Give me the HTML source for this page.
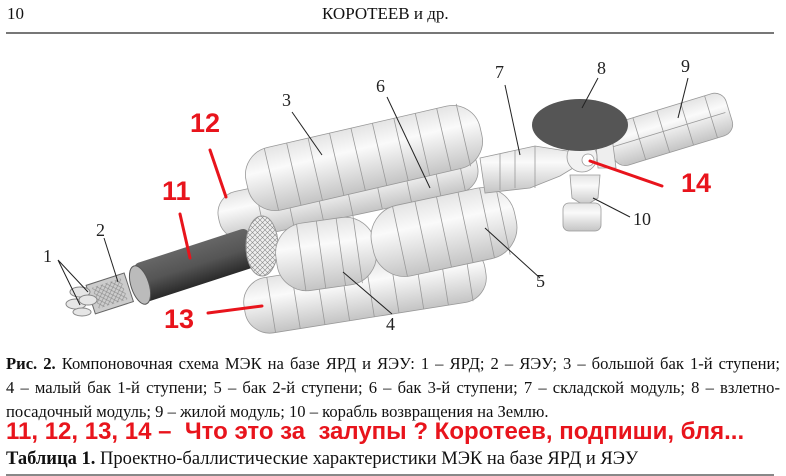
<!DOCTYPE html>
<html><head><meta charset="utf-8"><style>
body{margin:0;background:#fff;width:786px;height:476px;overflow:hidden;position:relative;font-family:"Liberation Serif",serif;color:#111}
.t{position:absolute;white-space:nowrap}
.cap{position:absolute;left:6px;width:774px;font-size:16.6px;line-height:24px;text-align:justify;text-align-last:justify;white-space:nowrap}
.red{position:absolute;color:#e8141c;font-family:"Liberation Sans",sans-serif;font-weight:bold;white-space:nowrap}
</style></head><body>
<div class="t" style="left:7px;top:4px;font-size:17px">10</div>
<div class="t" style="left:322px;top:4px;font-size:17px">КОРОТЕЕВ и др.</div>
<div style="position:absolute;left:6px;top:32px;width:768px;height:2px;background:#777"></div>

<svg width="786" height="340" style="position:absolute;left:0;top:0">
<defs>
<linearGradient id="g" x1="0" y1="0" x2="0" y2="1"><stop offset="0" stop-color="#e4e4e4"/><stop offset=".35" stop-color="#fafafa"/><stop offset="1" stop-color="#c4c4c4"/></linearGradient>
<linearGradient id="d" x1="0" y1="0" x2="0" y2="1"><stop offset="0" stop-color="#666"/><stop offset=".5" stop-color="#555"/><stop offset="1" stop-color="#2a2a2a"/></linearGradient>
<pattern id="m" width="5" height="5" patternUnits="userSpaceOnUse"><path d="M0 0L5 5M5 0L0 5" stroke="#888" stroke-width=".6"/></pattern>
</defs>
<g stroke="#999" stroke-width=".8">
<g transform="translate(348,192) rotate(-12)"><rect x="-132" y="-24" width="264" height="48" rx="22" fill="url(#g)"/>
<path d="M-90 -24v48M-60 -24v48M-30 -24v48M0 -24v48M30 -24v48M60 -24v48M90 -24v48M115 -24v48"/></g>
<g transform="translate(364,158) rotate(-13)"><rect x="-120" y="-32" width="240" height="64" rx="28" fill="url(#g)"/>
<path d="M-95 -32v64M-72 -32v64M-50 -32v64M-28 -32v64M-6 -32v64M16 -32v64M38 -32v64M60 -32v64M82 -32v64M102 -32v64"/></g>
<g transform="translate(365,290) rotate(-9)"><rect x="-122" y="-28" width="244" height="56" rx="25" fill="url(#g)"/>
<path d="M-95 -28v56M-70 -28v56M-45 -28v56M-20 -28v56M5 -28v56M30 -28v56M55 -28v56M80 -28v56M105 -28v56"/></g>
</g>
<g transform="translate(196,265) rotate(-18)"><rect x="-60" y="-20" width="120" height="40" rx="6" fill="url(#d)"/></g>
<ellipse cx="140" cy="285" rx="9" ry="20" transform="rotate(-18 140 285)" fill="#bbb" stroke="#555"/>
<ellipse cx="262" cy="246" rx="16" ry="30" fill="#eee" stroke="#999"/>
<ellipse cx="262" cy="246" rx="16" ry="30" fill="url(#m)"/>
<g transform="rotate(-18 105 295)"><rect x="90" y="280" width="40" height="30" fill="#ccc" stroke="#666"/><rect x="95" y="284" width="30" height="22" fill="url(#m)"/></g>
<g fill="#e6e6e6" stroke="#888"><ellipse cx="80" cy="292" rx="10" ry="5"/><ellipse cx="76" cy="304" rx="10" ry="5"/><ellipse cx="88" cy="300" rx="9" ry="5"/><ellipse cx="82" cy="312" rx="9" ry="4"/></g>
<g stroke="#999" stroke-width=".8">
<g transform="translate(326,254) rotate(-8)"><rect x="-50" y="-34" width="100" height="68" rx="30" fill="url(#g)"/>
<path d="M-25 -34v68M-5 -34v68M15 -34v68M32 -34v68"/></g>
<g transform="translate(444,232) rotate(-12)"><rect x="-73" y="-36" width="146" height="72" rx="32" fill="url(#g)"/>
<path d="M-45 -36v72M-22 -36v72M0 -36v72M22 -36v72M44 -36v72M60 -36v72"/></g>
<path d="M480 158 L535 146 L560 150 L575 152 L578 165 L560 176 L530 188 L485 193 Z" fill="url(#g)"/>
<path d="M500 154v36M515 150v38M535 146v42"/>
<g transform="translate(668,130) rotate(-17)"><rect x="-60" y="-22" width="124" height="44" rx="12" fill="url(#g)"/>
<path d="M-30 -22v44M-5 -22v44M20 -22v44M45 -22v44M-60 0h120"/></g>
<path d="M596 145 L612 137 L616 168 L598 168 Z" fill="#eee"/>
<path d="M570 175 L600 175 L598 198 L585 206 L572 198 Z" fill="url(#g)"/>
<rect x="563" y="203" width="38" height="28" rx="6" fill="url(#g)"/>
<circle cx="582" cy="157" r="15" fill="#f2f2f2"/>
<circle cx="588" cy="160" r="6" fill="#fff"/>
</g>
<ellipse cx="580" cy="125" rx="48" ry="26" fill="#555"/>
<g stroke="#222" stroke-width="1" fill="none">
<path d="M58 260 L88 292M58 260 L80 305"/><path d="M104 238 L118 282"/><path d="M292 112 L322 155"/>
<path d="M387 97 L430 188"/><path d="M505 85 L520 155"/><path d="M598 78 L582 108"/>
<path d="M688 78 L678 118"/><path d="M630 217 L593 198"/><path d="M540 278 L485 228"/><path d="M392 314 L343 272"/>
</g>
<g font-family="Liberation Serif,serif" font-size="18" fill="#222">
<text x="43" y="262">1</text><text x="96" y="236">2</text><text x="282" y="106">3</text><text x="386" y="330">4</text>
<text x="536" y="287">5</text><text x="376" y="92">6</text><text x="495" y="78">7</text><text x="597" y="74">8</text>
<text x="681" y="72">9</text><text x="633" y="225">10</text></g>
<g stroke="#e8141c" stroke-width="3" fill="none" stroke-linecap="round">
<path d="M210 150 L226 197"/><path d="M180 214 L190 258"/><path d="M208 313 L262 306"/><path d="M590 161 L662 186"/></g>
</svg>
<div class="red" style="left:190px;top:108px;font-size:27px">12</div>
<div class="red" style="left:162px;top:176px;font-size:27px">11</div>
<div class="red" style="left:164px;top:304px;font-size:27px">13</div>
<div class="red" style="left:681px;top:168px;font-size:27px">14</div>

<div class="cap" style="top:352px"><b>Рис. 2.</b> Компоновочная схема МЭК на базе ЯРД и ЯЭУ: 1 – ЯРД; 2 – ЯЭУ; 3 – большой бак 1-й ступени;</div>
<div class="cap" style="top:376px">4 – малый бак 1-й ступени; 5 – бак 2-й ступени; 6 – бак 3-й ступени; 7 – складской модуль; 8 – взлетно-</div>
<div class="t" style="left:6px;top:400px;font-size:16.6px;line-height:24px">посадочный модуль; 9 – жилой модуль; 10 – корабль возвращения на Землю.</div>
<div class="red" style="left:6px;top:418px;font-size:24px">11, 12, 13, 14 –&nbsp; Что это за&nbsp; залупы ? Коротеев, подпиши, бля...</div>
<div class="t" style="left:6px;top:449px;font-size:18.5px"><b>Таблица 1.</b> Проектно-баллистические характеристики МЭК на базе ЯРД и ЯЭУ</div>
<div style="position:absolute;left:6px;top:474px;width:768px;height:2px;background:#888"></div>
</body></html>
